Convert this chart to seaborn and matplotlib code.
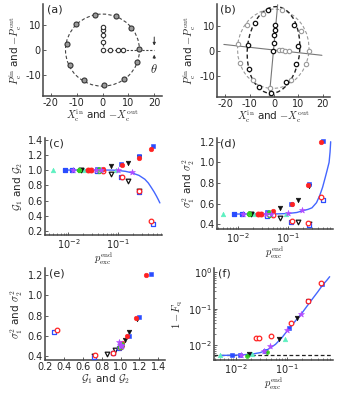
import matplotlib
matplotlib.use("Agg")
import matplotlib.pyplot as plt
import seaborn as sns
from matplotlib.patches import Ellipse
from matplotlib.ticker import LogLocator, NullFormatter, MultipleLocator

# ---------------- data ----------------
# panel (a)
a_outer_x = [-3.0, 5.1, 11.1, 14.0, 13.2, 8.2, 0.4, -7.2, -12.4, -13.7, -10.1]
a_outer_y = [14.0, 13.6, 8.6, 0.3, -4.6, -11.4, -14.0, -11.7, -5.9, 2.6, 10.2]
a_inner_x = [0.0, 0.0, 0.0, 0.0, 0.0, 2.9, 5.9, 8.1]
a_inner_y = [0.0, 3.2, 5.9, 8.1, 9.0, 0.0, 0.0, 0.0]
a_circle_r = 14.3
a_hline_x = [0.0, 20.0]
a_vline_y = [0.0, 9.0]

# panel (b)
b_black_x = [-2.4, -7.6, -10.6, -10.1, -6.2, -1.1, 4.9, 9.0, 9.8, 8.0,
             -0.2, 0.0, 0.2, 0.3, 0.4]
b_black_y = [16.3, 11.0, 2.3, -7.3, -14.1, -16.5, -12.4, -5.0, 2.0, 10.3,
             0.0, 3.2, 6.3, 8.3, 10.3]
b_gray_x = [-4.5, 3.3, 11.1, 14.2, 13.1, 7.1, -1.5, -8.6, -13.8, -14.7, -11.0,
            1.9, 3.3, 4.6, 6.2]
b_gray_y = [14.5, 16.3, 8.0, 0.0, -5.0, -11.4, -14.6, -11.4, -4.8, 2.7, 10.3,
            0.3, 0.2, 0.1, 0.0]
b_line1_x = [-20.5, 19.6]
b_line1_y = [2.6, -1.7]
b_line2_x = [-1.9, 1.5]
b_line2_y = [-17.7, 18.3]
b_black_ell = (-0.2, 0.4, 21.4, 34.4, -5.4)   # cx, cy, width, height, angle
b_gray_ell = (-0.3, 0.9, 29.2, 31.4, -6.0)

# panels (c)-(f)
blue_p = [0.0085, 0.012, 0.038, 0.112, 0.26, 0.49]
blue_G1 = [1.00, 1.00, 1.02, 1.086, 1.19, 1.32]
blue_G2 = [1.00, 1.00, 0.985, 0.915, 0.716, 0.29]
blue_s1 = [0.50, 0.50, 0.522, 0.594, 0.79, 1.21]
blue_s2 = [0.50, 0.50, 0.48, 0.426, 0.39, 0.64]
blue_F = [0.0052, 0.0053, 0.0068, 0.030, 0.16, 0.48]

red_p = [0.0245, 0.0285, 0.05, 0.12, 0.255, 0.46]
red_G1 = [1.00, 1.00, 1.01, 1.065, 1.16, 1.27]
red_G2 = [1.00, 1.00, 0.99, 0.915, 0.73, 0.33]
red_s1 = [0.50, 0.50, 0.53, 0.60, 0.78, 1.20]
red_s2 = [0.50, 0.50, 0.49, 0.43, 0.41, 0.66]
red_F = [0.0155, 0.0155, 0.018, 0.040, 0.165, 0.50]

black_p = [0.018, 0.07, 0.155, 0.26]
black_G1 = [1.00, 1.05, 1.094, 1.17]
black_G2 = [1.00, 0.946, 0.86, 0.72]
black_s1 = [0.50, 0.555, 0.636, 0.77]
black_s2 = [0.50, 0.46, 0.42, 0.40]
black_F = [0.0058, 0.0149, 0.057, 0.16]

green_p = [0.0165, 0.041]
green_G1 = [1.00, 1.01]
green_G2 = [1.00, 0.99]
green_s1 = [0.51, 0.52]
green_s2 = [0.50, 0.49]
green_F = [0.0050, 0.0065]

mag_p = [0.0125, 0.036, 0.046, 0.10, 0.19]
mag_G = [1.00, 1.00, 1.00, 1.00, 0.98]
mag_s = [0.50, 0.50, 0.50, 0.51, 0.535]
mag_F = [0.0055, 0.0067, 0.0093, 0.026, 0.071]

cyan_p = [0.005, 0.021, 0.09]
cyan_G = [1.00, 1.00, 1.00]
cyan_s = [0.50, 0.50, 0.50]
cyan_F = [0.0052, 0.0057, 0.0149]

curveG_p = [0.008, 0.05, 0.074, 0.1, 0.14, 0.185, 0.26, 0.34, 0.40, 0.46, 0.52, 0.58, 0.63, 0.68]
curveG_v = [1.0, 1.0, 1.0, 0.995, 0.983, 0.965, 0.93, 0.88, 0.83, 0.77, 0.715, 0.66, 0.615, 0.57]
curveS_p = [0.008, 0.05, 0.1, 0.15, 0.19, 0.25, 0.3, 0.37, 0.43, 0.49, 0.55, 0.6, 0.66, 0.69, 0.71]
curveS_v = [0.5, 0.5, 0.505, 0.515, 0.53, 0.545, 0.56, 0.61, 0.68, 0.76, 0.85, 0.92, 1.0, 1.1, 1.2]
curveF_p = [0.005, 0.01, 0.02, 0.03, 0.04, 0.05, 0.06, 0.08, 0.1, 0.15, 0.19, 0.25, 0.3, 0.4, 0.5, 0.6, 0.68]
curveF_v = [0.0052, 0.0053, 0.0056, 0.0062, 0.0072, 0.0088, 0.0105, 0.016, 0.024, 0.048, 0.071, 0.12, 0.17, 0.29, 0.45, 0.6, 0.75]
F_floor = 0.0052

# ---------------- style ----------------
sns.set_style("ticks")
plt.rcParams.update({
    "font.family": ["DejaVu Sans"],
    "mathtext.fontset": "cm",
    "axes.unicode_minus": False,
    "font.size": 7,
    "axes.labelsize": 7.5,
    "xtick.labelsize": 7,
    "ytick.labelsize": 7,
})

BLUE = "#2a4dff"
RED = "#ff2222"
BLACK = "#111111"
GREEN = "#33cc22"
MAG = "#b24cff"
CYAN = "#5cf0c0"
CURVE = "#4466ff"
SPINE = "#444444"

fig = plt.figure(figsize=(3.38, 3.95), dpi=100)
W, H = 338.0, 395.0


def add_ax(l, r, t, b):
    return fig.add_axes([l / W, (H - b) / H, (r - l) / W, (b - t) / H])


def style(ax, label):
    sns.despine(ax=ax)
    for s in ("left", "bottom"):
        ax.spines[s].set_linewidth(1.1)
        ax.spines[s].set_color(SPINE)
    ax.tick_params(which="major", direction="in", length=2.5, width=0.6,
                   pad=1.5, color=SPINE)
    ax.tick_params(which="minor", direction="in", length=1.4, width=0.5,
                   color=SPINE)
    ax.text(0.03, 1.0, label, transform=ax.transAxes, va="top", ha="left",
            fontsize=8)


ax_a = add_ax(43, 162, 4, 96)
ax_b = add_ax(217, 330, 4, 97)
ax_c = add_ax(45, 162, 138, 235)
ax_d = add_ax(217, 333, 138, 229)
ax_e = add_ax(45, 165, 268, 360)
ax_f = add_ax(214, 333, 268, 360)

# ---------------- (a) ----------------
ax = ax_a
ax.add_patch(Ellipse((0, 0), 2 * a_circle_r, 2 * a_circle_r, fill=False,
                     ls=(0, (3, 2)), lw=0.8, color="#444444"))
sns.lineplot(x=a_hline_x, y=[0, 0], ax=ax, color="#444444", lw=0.8,
             linestyle=(0, (2, 1.5)))
sns.lineplot(x=[0, 0], y=a_vline_y, ax=ax, color="#444444", lw=0.8,
             linestyle=(0, (2, 1.5)), orient="y")
sns.scatterplot(x=a_outer_x, y=a_outer_y, ax=ax, marker="o", s=13,
                color="#9a9a9a", edgecolor="#333333", linewidth=0.8, zorder=3)
sns.scatterplot(x=a_inner_x, y=a_inner_y, ax=ax, marker="o", s=10,
                color="white", edgecolor="#333333", linewidth=0.8, zorder=3)
ax.annotate("", xy=(20, 0.7), xytext=(20, 6.3),
            arrowprops=dict(arrowstyle="-|>", lw=0.7, color="#333333",
                            mutation_scale=4))
ax.annotate("", xy=(20, -0.7), xytext=(20, -4.4),
            arrowprops=dict(arrowstyle="-|>", lw=0.7, color="#333333",
                            mutation_scale=4))
ax.text(20, -7.5, r"$\theta$", ha="center", va="center", fontsize=9)
ax.set_xlim(-23, 23)
ax.set_ylim(-18.2, 18.3)
ax.set_xticks([-20, -10, 0, 10, 20])
ax.set_yticks([-10, 0, 10])
ax.set_xlabel(r"$X_\mathrm{c}^\mathrm{in}$ and $-X_\mathrm{c}^\mathrm{out}$", labelpad=0)
ax.set_ylabel(r"$P_\mathrm{c}^\mathrm{in}$ and $-P_\mathrm{c}^\mathrm{out}$", labelpad=1)
style(ax, "(a)")

# ---------------- (b) ----------------
ax = ax_b
sns.lineplot(x=b_line1_x, y=b_line1_y, ax=ax, color="#777777", lw=0.8)
sns.lineplot(x=b_line2_x, y=b_line2_y, ax=ax, color="#777777", lw=0.8,
             orient="y")
cx, cy, w, h, ang = b_gray_ell
ax.add_patch(Ellipse((cx, cy), w, h, angle=ang, fill=False,
                     ls=(0, (3, 2)), lw=0.8, color="#9a9a9a"))
cx, cy, w, h, ang = b_black_ell
ax.add_patch(Ellipse((cx, cy), w, h, angle=ang, fill=False,
                     ls=(0, (3, 2)), lw=1.0, color="#222222"))
sns.scatterplot(x=b_gray_x, y=b_gray_y, ax=ax, marker="o", s=10,
                color="white", edgecolor="#999999", linewidth=0.8, zorder=3)
sns.scatterplot(x=b_black_x, y=b_black_y, ax=ax, marker="o", s=10,
                color="white", edgecolor="#111111", linewidth=0.9, zorder=3)
ax.set_xlim(-23.3, 22.9)
ax.set_ylim(-18.2, 18.6)
ax.set_xticks([-20, -10, 0, 10, 20])
ax.set_yticks([-10, 0, 10])
ax.set_xlabel(r"$X_\mathrm{c}^\mathrm{in}$ and $-X_\mathrm{c}^\mathrm{out}$", labelpad=0)
ax.set_ylabel(r"$P_\mathrm{c}^\mathrm{in}$ and $-P_\mathrm{c}^\mathrm{out}$", labelpad=1)
style(ax, "(b)")


def pairs(ax, x1, y1, x2, y2, marker, color, s=11):
    sns.scatterplot(x=x2, y=y2, ax=ax, marker=marker, s=s, color="white",
                    edgecolor=color, linewidth=0.9, zorder=3)
    sns.scatterplot(x=x1, y=y1, ax=ax, marker=marker, s=s, color=color,
                    edgecolor=color, linewidth=0.4, zorder=3)


def singles(ax, x, y, marker, color, s=11):
    sns.scatterplot(x=x, y=y, ax=ax, marker=marker, s=s, color=color,
                    edgecolor=color, linewidth=0.4, zorder=3)


def log_x(ax, lo, hi):
    ax.set_xscale("log")
    ax.set_xlim(lo, hi)
    ax.xaxis.set_major_locator(LogLocator(base=10, numticks=10))
    ax.xaxis.set_minor_locator(LogLocator(base=10, subs=range(2, 10), numticks=20))
    ax.xaxis.set_minor_formatter(NullFormatter())


# ---------------- (c) ----------------
ax = ax_c
sns.lineplot(x=curveG_p, y=curveG_v, ax=ax, color=CURVE, lw=1.0, zorder=2)
singles(ax, cyan_p, cyan_G, "^", CYAN)
pairs(ax, black_p, black_G1, black_p, black_G2, "v", BLACK)
pairs(ax, blue_p, blue_G1, blue_p, blue_G2, "s", BLUE, s=10)
pairs(ax, red_p, red_G1, red_p, red_G2, "o", RED)
pairs(ax, green_p, green_G1, green_p, green_G2, "P", GREEN)
singles(ax, mag_p, mag_G, "*", MAG, s=20)
log_x(ax, 0.0034, 0.75)
ax.set_ylim(0.15, 1.42)
ax.yaxis.set_major_locator(MultipleLocator(0.2))
ax.set_xlabel(r"$p_\mathrm{exc}^\mathrm{end}$", labelpad=0)
ax.set_ylabel(r"$\mathcal{G}_1$ and $\mathcal{G}_2$", labelpad=2)
style(ax, "(c)")

# ---------------- (d) ----------------
ax = ax_d
sns.lineplot(x=curveS_p, y=curveS_v, ax=ax, color=CURVE, lw=1.0, zorder=2)
singles(ax, cyan_p, cyan_s, "^", CYAN)
pairs(ax, black_p, black_s1, black_p, black_s2, "v", BLACK)
pairs(ax, blue_p, blue_s1, blue_p, blue_s2, "s", BLUE, s=10)
pairs(ax, red_p, red_s1, red_p, red_s2, "o", RED)
pairs(ax, green_p, green_s1, green_p, green_s2, "P", GREEN)
singles(ax, mag_p, mag_s, "*", MAG, s=20)
log_x(ax, 0.0038, 0.79)
ax.set_ylim(0.355, 1.236)
ax.yaxis.set_major_locator(MultipleLocator(0.2))
ax.set_xlabel(r"$p_\mathrm{exc}^\mathrm{end}$", labelpad=0)
ax.set_ylabel(r"$\sigma_1^2$ and $\sigma_2^2$", labelpad=2)
style(ax, "(d)")

# ---------------- (e) ----------------
ax = ax_e
singles(ax, cyan_G, cyan_s, "^", CYAN)
pairs(ax, black_G1, black_s1, black_G2, black_s2, "v", BLACK)
pairs(ax, blue_G1, blue_s1, blue_G2, blue_s2, "s", BLUE, s=10)
pairs(ax, red_G1, red_s1, red_G2, red_s2, "o", RED)
pairs(ax, green_G1, green_s1, green_G2, green_s2, "P", GREEN)
singles(ax, mag_G, mag_s, "*", MAG, s=20)
ax.set_ylim(0.36, 1.27)
ax.set_xticks([0.2, 0.4, 0.6, 0.8, 1.0, 1.2, 1.4])
ax.set_xlim(0.2, 1.47)
ax.yaxis.set_major_locator(MultipleLocator(0.2))
ax.set_xlabel(r"$\mathcal{G}_1$ and $\mathcal{G}_2$", labelpad=0)
ax.set_ylabel(r"$\sigma_1^2$ and $\sigma_2^2$", labelpad=2)
style(ax, "(e)")

# ---------------- (f) ----------------
ax = ax_f
ax.axhline(F_floor, color="#222222", lw=0.9, ls=(0, (3, 2)), zorder=1)
sns.lineplot(x=curveF_p, y=curveF_v, ax=ax, color=CURVE, lw=1.0, zorder=2)
singles(ax, cyan_p, cyan_F, "^", CYAN)
singles(ax, black_p, black_F, "v", BLACK)
singles(ax, blue_p, blue_F, "s", BLUE, s=10)
sns.scatterplot(x=red_p, y=red_F, ax=ax, marker="o", s=11, color="white",
                edgecolor=RED, linewidth=0.9, zorder=3)
singles(ax, green_p, green_F, "P", GREEN)
singles(ax, mag_p, mag_F, "*", MAG, s=20)
log_x(ax, 0.0038, 0.79)
ax.set_yscale("log")
ax.set_ylim(0.0039, 1.3)
ax.yaxis.set_major_locator(LogLocator(base=10, numticks=10))
ax.yaxis.set_minor_locator(LogLocator(base=10, subs=range(2, 10), numticks=20))
ax.yaxis.set_minor_formatter(NullFormatter())
ax.set_xlabel(r"$p_\mathrm{exc}^\mathrm{end}$", labelpad=0)
ax.set_ylabel(r"$1-F_\mathrm{q}$", labelpad=2)
style(ax, "(f)")

fig.savefig("out.png", dpi=100)
